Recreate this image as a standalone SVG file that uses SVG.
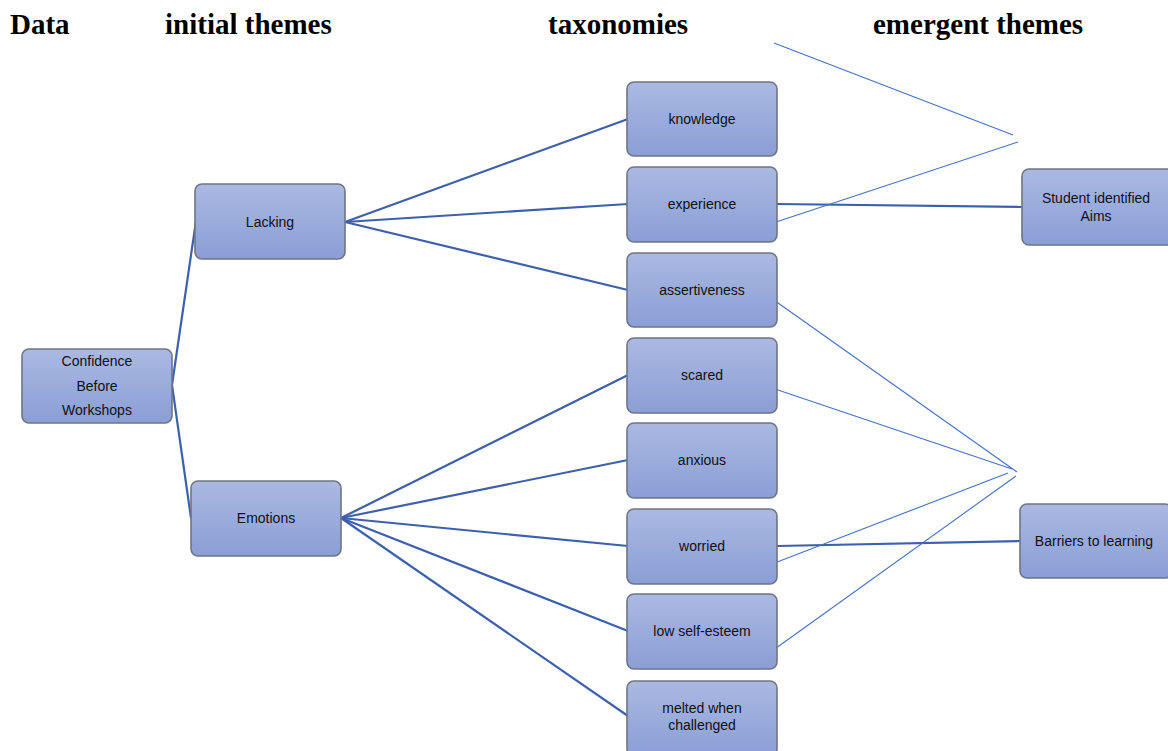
<svg xmlns="http://www.w3.org/2000/svg" width="1168" height="751" viewBox="0 0 1168 751">
<style>
.hd{font-family:"Liberation Serif","Times New Roman",serif;font-weight:bold;font-size:29px;fill:#000}
.bx{fill:url(#g);stroke:#6e7682;stroke-width:1.6}
.tx{font-family:"Liberation Sans",Arial,sans-serif;font-size:14px;fill:#111;text-anchor:middle;dominant-baseline:middle}
.th{stroke:#3d60ad;stroke-width:2.2;fill:none}
.tn{stroke:#4472c4;stroke-width:1.1;fill:none}
</style>
<defs>
<linearGradient id="g" x1="0" y1="0" x2="0" y2="1">
<stop offset="0" stop-color="#abb9e2"/>
<stop offset="1" stop-color="#8a9ed6"/>
</linearGradient>
</defs>
<rect width="1168" height="751" fill="#fff"/>
<text class="hd" x="10" y="34">Data</text>
<text class="hd" x="165" y="34">initial themes</text>
<text class="hd" x="548" y="34">taxonomies</text>
<text class="hd" x="873" y="34">emergent themes</text>
<g id="connectors">
<line class="th" x1="172" y1="385" x2="196" y2="221"/>
<line class="th" x1="172" y1="385" x2="191" y2="518"/>
<line class="th" x1="345" y1="222" x2="628" y2="119"/>
<line class="th" x1="345" y1="222" x2="628" y2="204"/>
<line class="th" x1="345" y1="222" x2="628" y2="290"/>
<line class="th" x1="341" y1="518" x2="628" y2="375"/>
<line class="th" x1="341" y1="518" x2="628" y2="460"/>
<line class="th" x1="341" y1="518" x2="628" y2="546"/>
<line class="th" x1="341" y1="518" x2="628" y2="631"/>
<line class="th" x1="341" y1="518" x2="628" y2="716"/>
<line class="th" x1="777" y1="204" x2="1022" y2="207"/>
<line class="th" x1="777" y1="546" x2="1020" y2="541"/>
<line class="tn" x1="774" y1="43" x2="1013" y2="135"/>
<line class="tn" x1="773" y1="223" x2="1018" y2="142"/>
<line class="tn" x1="771" y1="298" x2="1017" y2="472"/>
<line class="tn" x1="775" y1="389" x2="1012" y2="469"/>
<line class="tn" x1="772" y1="564" x2="1008" y2="473"/>
<line class="tn" x1="772" y1="651" x2="1016" y2="476"/>
</g>
<g id="n-confidence"><rect class="bx" x="22" y="349" width="150" height="74" rx="7"/><text class="tx" x="97" y="362">Confidence</text><text class="tx" x="97" y="387">Before</text><text class="tx" x="97" y="411">Workshops</text></g>
<g id="n-lacking"><rect class="bx" x="195" y="184" width="150" height="75" rx="7"/><text class="tx" x="270" y="223">Lacking</text></g>
<g id="n-emotions"><rect class="bx" x="191" y="481" width="150" height="75" rx="7"/><text class="tx" x="266" y="519">Emotions</text></g>
<g id="n-knowledge"><rect class="bx" x="627" y="82" width="150" height="74" rx="7"/><text class="tx" x="702" y="120">knowledge</text></g>
<g id="n-experience"><rect class="bx" x="627" y="167" width="150" height="75" rx="7"/><text class="tx" x="702" y="205">experience</text></g>
<g id="n-assertiveness"><rect class="bx" x="627" y="253" width="150" height="74" rx="7"/><text class="tx" x="702" y="291">assertiveness</text></g>
<g id="n-scared"><rect class="bx" x="627" y="338" width="150" height="75" rx="7"/><text class="tx" x="702" y="376">scared</text></g>
<g id="n-anxious"><rect class="bx" x="627" y="423" width="150" height="75" rx="7"/><text class="tx" x="702" y="461">anxious</text></g>
<g id="n-worried"><rect class="bx" x="627" y="509" width="150" height="75" rx="7"/><text class="tx" x="702" y="547">worried</text></g>
<g id="n-lowselfesteem"><rect class="bx" x="627" y="594" width="150" height="75" rx="7"/><text class="tx" x="702" y="632">low self-esteem</text></g>
<g id="n-melted"><rect class="bx" x="627" y="681" width="150" height="75" rx="7"/><text class="tx" x="702" y="709">melted when</text><text class="tx" x="702" y="726">challenged</text></g>
<g id="n-aims"><rect class="bx" x="1022" y="169" width="152" height="76" rx="7"/><text class="tx" x="1096" y="199">Student identified</text><text class="tx" x="1096" y="217">Aims</text></g>
<g id="n-barriers"><rect class="bx" x="1020" y="504" width="152" height="74" rx="7"/><text class="tx" x="1094" y="542">Barriers to learning</text></g>
</svg>
